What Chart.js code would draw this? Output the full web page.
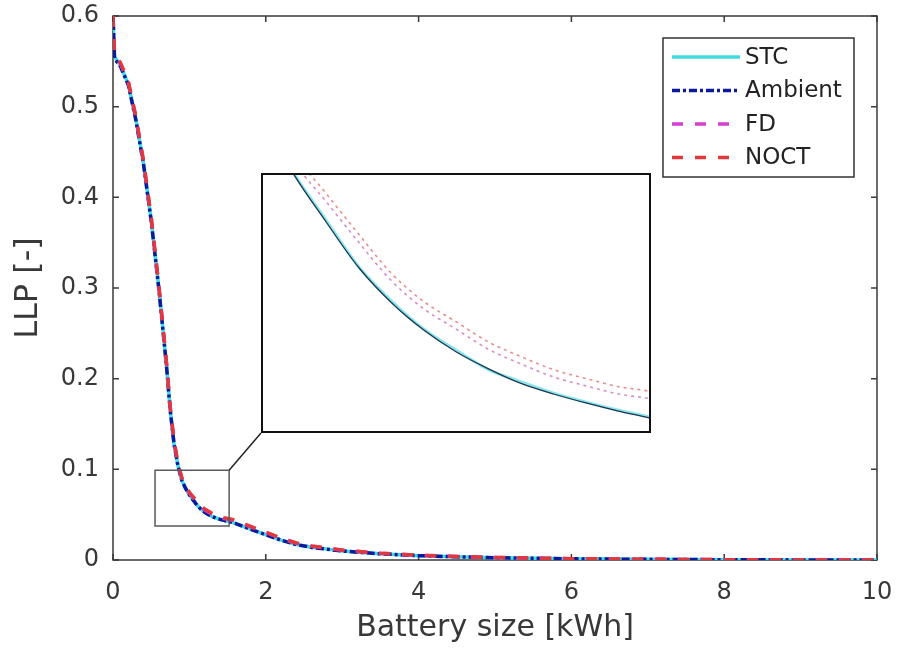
<!DOCTYPE html>
<html>
<head>
<meta charset="utf-8">
<script src="https://cdn.jsdelivr.net/npm/chart.js@4.4.1/dist/chart.umd.min.js"></script>
<style>
  html, body { margin: 0; padding: 0; background: #fff; }
  #wrap { position: relative; width: 897px; height: 651px; }
  #main { position: absolute; left: 0; top: 0; }
  #zoom { position: absolute; left: 261px; top: 173px; background: #fff; }
</style>
</head>
<body>
<div id="wrap">
  <canvas id="main" width="897" height="651"></canvas>
  <canvas id="zoom" width="390" height="260"></canvas>
</div>
<script>
// battery size [kWh] and loss of load probability for each cell temperature model
const batterySize = [0, 0.02, 0.1, 0.2, 0.3, 0.4, 0.5, 0.6, 0.7, 0.75, 0.8, 0.85, 0.9, 0.95,
  1.0, 1.05, 1.1, 1.15, 1.2, 1.25, 1.3, 1.35, 1.4, 1.45, 1.5, 1.55, 1.6, 1.8, 2.0, 2.2, 2.4,
  2.6, 2.8, 3.0, 3.5, 4.0, 4.5, 5.0, 6.0, 7.0, 8.0, 9.0, 10.0];

const llpSTC = [0.600, 0.555, 0.545, 0.525, 0.486, 0.437, 0.375, 0.300, 0.215, 0.165, 0.128, 0.104, 0.088, 0.079,
  0.0720, 0.0662, 0.0605, 0.0563, 0.0528, 0.0502, 0.0478, 0.0463, 0.0449, 0.0438, 0.0428, 0.0419, 0.0405,
  0.0340, 0.0280, 0.0220, 0.0170, 0.0140, 0.0120, 0.0100, 0.0068, 0.0048, 0.0035, 0.0025, 0.0013, 0.0007,
  0.0003, 0.0001, 0.0000];

const llpAmbient = [0.600, 0.553, 0.544, 0.524, 0.485, 0.436, 0.374, 0.299, 0.214, 0.164, 0.127, 0.104, 0.088, 0.079,
  0.0719, 0.0660, 0.0604, 0.0561, 0.0527, 0.0500, 0.0479, 0.0461, 0.0448, 0.0437, 0.0427, 0.0418, 0.0404,
  0.0339, 0.0279, 0.0219, 0.0170, 0.0139, 0.0119, 0.0099, 0.0068, 0.0048, 0.0035, 0.0025, 0.0013, 0.0007,
  0.0003, 0.0001, 0.0000];

const llpFD = [0.600, 0.558, 0.547, 0.527, 0.488, 0.439, 0.377, 0.302, 0.217, 0.167, 0.130, 0.106, 0.090, 0.081,
  0.0735, 0.0685, 0.0635, 0.0588, 0.0553, 0.0528, 0.0503, 0.0485, 0.0469, 0.0458, 0.0448, 0.0442, 0.0432,
  0.0366, 0.0303, 0.0238, 0.0185, 0.0152, 0.0130, 0.0108, 0.0074, 0.0052, 0.0038, 0.0027, 0.0014, 0.0008,
  0.0004, 0.0001, 0.0000];

const llpNOCT = [0.600, 0.560, 0.548, 0.528, 0.489, 0.440, 0.378, 0.303, 0.218, 0.168, 0.131, 0.107, 0.091, 0.082,
  0.0745, 0.0695, 0.0645, 0.0597, 0.0562, 0.0537, 0.0512, 0.0494, 0.0478, 0.0467, 0.0457, 0.0451, 0.0440,
  0.0372, 0.0308, 0.0242, 0.0188, 0.0155, 0.0132, 0.0110, 0.0075, 0.0053, 0.0039, 0.0028, 0.0015, 0.0008,
  0.0004, 0.0001, 0.0000];

const seriesNames = ['STC', 'Ambient', 'FD', 'NOCT'];
const seriesValues = [llpSTC, llpAmbient, llpFD, llpNOCT];

const xTicks = [0, 2, 4, 6, 8, 10];
const yTicks = [0, 0.1, 0.2, 0.3, 0.4, 0.5, 0.6];

// region marked on the main axes and the range shown in the magnified view
const zoomBoxX = [0.55, 1.52];
const zoomBoxY = [0.0375, 0.099];
const insetX = [0.95, 1.55];
const insetY = [0.04, 0.072];

// line styles, main axes and magnified view
const mainStyle = [
  { color: '#3fdbe2', dash: [] },
  { color: '#0b1a9c', dash: [8, 3, 3, 3] },
  { color: '#d43fd0', dash: [11, 12] },
  { color: '#e0383c', dash: [11, 12] }
];
const insetStyle = [
  { color: '#86e7ef', width: 3, dash: [] },
  { color: '#27324c', width: 1.3, dash: [] },
  { color: '#d98cc6', width: 1.6, dash: [3, 4] },
  { color: '#e88c8c', width: 1.6, dash: [3, 4] }
];

Chart.defaults.font.family = '"DejaVu Sans", "Liberation Sans", sans-serif';
Chart.defaults.color = '#383838';

const toPoints = values => batterySize.map((x, i) => ({ x: x, y: values[i] }));
const AXIS_COLOR = '#3a3a3a';

// box round the axes with inward ticks on all four sides
const axesBox = {
  id: 'axesBox',
  beforeDatasetsDraw(chart) {
    const { ctx, chartArea: a, scales } = chart;
    ctx.save();
    ctx.strokeStyle = AXIS_COLOR;
    ctx.lineWidth = 1.5;
    ctx.strokeRect(a.left, a.top, a.right - a.left, a.bottom - a.top);
    ctx.beginPath();
    xTicks.forEach(v => {
      const px = scales.x.getPixelForValue(v);
      ctx.moveTo(px, a.bottom); ctx.lineTo(px, a.bottom - 6);
      ctx.moveTo(px, a.top); ctx.lineTo(px, a.top + 6);
    });
    yTicks.forEach(v => {
      const py = scales.y.getPixelForValue(v);
      ctx.moveTo(a.left, py); ctx.lineTo(a.left + 6, py);
      ctx.moveTo(a.right, py); ctx.lineTo(a.right - 6, py);
    });
    ctx.stroke();
    ctx.restore();
  }
};

// small rectangle on the curve knee, joined to the magnified view
const zoomMarker = {
  id: 'zoomMarker',
  afterDatasetsDraw(chart) {
    const { ctx, scales } = chart;
    const inset = document.getElementById('zoom');
    const x0 = scales.x.getPixelForValue(zoomBoxX[0]);
    const x1 = scales.x.getPixelForValue(zoomBoxX[1]);
    const y0 = scales.y.getPixelForValue(zoomBoxY[0]);
    const y1 = scales.y.getPixelForValue(zoomBoxY[1]);
    ctx.save();
    ctx.strokeStyle = '#5a5a5a';
    ctx.lineWidth = 1.5;
    ctx.strokeRect(x0, y1, x1 - x0, y0 - y1);
    ctx.beginPath();
    ctx.strokeStyle = '#222';
    ctx.moveTo(x1, y1);
    ctx.lineTo(inset.offsetLeft, inset.offsetTop + inset.height);
    ctx.stroke();
    ctx.restore();
  }
};

// legend box in the upper right corner of the axes
const boxLegend = {
  id: 'boxLegend',
  afterDraw(chart) {
    const { ctx, chartArea: a } = chart;
    const w = 191, h = 139;
    const left = a.right - 23 - w, top = a.top + 22;
    ctx.save();
    ctx.fillStyle = '#fff';
    ctx.fillRect(left, top, w, h);
    ctx.strokeStyle = '#333';
    ctx.lineWidth = 1.5;
    ctx.strokeRect(left, top, w, h);
    ctx.font = '23px "DejaVu Sans", "Liberation Sans", sans-serif';
    ctx.textBaseline = 'middle';
    seriesNames.forEach((name, i) => {
      const y = top + 19 + i * 33.5;
      ctx.beginPath();
      ctx.setLineDash(mainStyle[i].dash);
      ctx.strokeStyle = mainStyle[i].color;
      ctx.lineWidth = 3.5;
      ctx.moveTo(left + 9, y);
      ctx.lineTo(left + 77, y);
      ctx.stroke();
      ctx.setLineDash([]);
      ctx.fillStyle = '#222';
      ctx.fillText(name, left + 82, y + 1);
    });
    ctx.restore();
  }
};

new Chart(document.getElementById('main'), {
  type: 'line',
  data: {
    datasets: seriesNames.map((name, i) => ({
      label: name,
      data: toPoints(seriesValues[i]),
      borderColor: mainStyle[i].color,
      borderDash: mainStyle[i].dash,
      borderWidth: 3.5,
      order: seriesNames.length - 1 - i
    }))
  },
  options: {
    responsive: false,
    animation: false,
    layout: { padding: { top: 16, right: 20, left: 0, bottom: 0 } },
    elements: { point: { radius: 0 }, line: { tension: 0 } },
    plugins: { legend: { display: false }, tooltip: { enabled: false } },
    scales: {
      x: {
        type: 'linear',
        min: 0,
        max: 10,
        afterBuildTicks: s => { s.ticks = xTicks.map(v => ({ value: v })); },
        afterFit: s => { s.height = 91; s.paddingLeft = 0; s.paddingRight = 0; },
        grid: { display: false, drawTicks: false },
        border: { display: false },
        ticks: { font: { size: 24 }, padding: 18, maxRotation: 0 },
        title: { display: true, text: 'Battery size [kWh]', font: { size: 30 }, padding: { top: 0, bottom: 5 } }
      },
      y: {
        type: 'linear',
        min: 0,
        max: 0.6,
        afterBuildTicks: s => { s.ticks = yTicks.map(v => ({ value: v })); },
        afterFit: s => { s.width = 113; s.paddingTop = 0; s.paddingBottom = 0; },
        grid: { display: false, drawTicks: false },
        border: { display: false },
        ticks: { font: { size: 24 }, padding: 14, callback: v => String(+v.toFixed(1)) },
        title: { display: true, text: 'LLP [-]', font: { size: 32 }, padding: { top: 9, bottom: 0 } }
      }
    }
  },
  plugins: [axesBox, zoomMarker, boxLegend]
});

// magnified view of the knee
const insetFrame = {
  id: 'insetFrame',
  afterDraw(chart) {
    const { ctx, width, height } = chart;
    ctx.save();
    ctx.strokeStyle = '#111';
    ctx.lineWidth = 2;
    ctx.strokeRect(1, 1, width - 2, height - 2);
    ctx.restore();
  }
};

new Chart(document.getElementById('zoom'), {
  type: 'line',
  data: {
    datasets: seriesNames.map((name, i) => ({
      label: name,
      data: toPoints(seriesValues[i]),
      borderColor: insetStyle[i].color,
      borderDash: insetStyle[i].dash,
      borderWidth: insetStyle[i].width,
      cubicInterpolationMode: 'monotone',
      order: seriesNames.length - 1 - i
    }))
  },
  options: {
    responsive: false,
    animation: false,
    layout: { padding: 0 },
    elements: { point: { radius: 0 } },
    plugins: { legend: { display: false }, tooltip: { enabled: false } },
    scales: {
      x: { type: 'linear', display: false, min: insetX[0], max: insetX[1] },
      y: { type: 'linear', display: false, min: insetY[0], max: insetY[1] }
    }
  },
  plugins: [insetFrame]
});
</script>
</body>
</html>
